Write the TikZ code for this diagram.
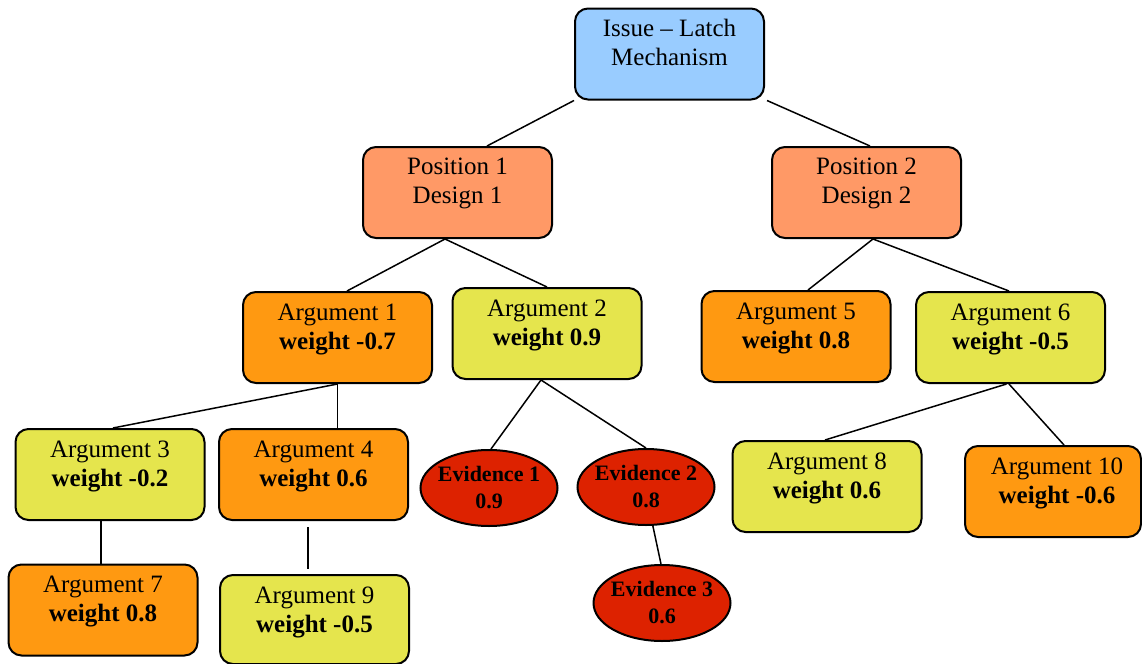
\documentclass[tikz,border=0pt]{standalone}
\usepackage{fontspec}
\setmainfont{Liberation Serif}
\usetikzlibrary{shapes.geometric,calc}
\definecolor{issuec}{HTML}{99CCFF}
\definecolor{posc}{HTML}{FF9966}
\definecolor{orgc}{HTML}{FF9911}
\definecolor{yelc}{HTML}{E5E54D}
\definecolor{evc}{HTML}{DD2200}
\begin{document}
\begin{tikzpicture}[x=0.5pt,y=-0.5pt,
  box/.style={draw=black,line width=1pt,rounded corners=6.5pt,minimum width=94.5pt,minimum height=45.5pt,inner sep=0pt},
  txt/.style={anchor=north,align=center,inner sep=0pt,font=\fontsize{12.5}{14.5}\selectfont},
  evid/.style={ellipse,draw=black,line width=1pt,fill=evc,minimum width=68.5pt,minimum height=38pt,inner xsep=-1.6pt,inner ysep=0pt,align=center,font=\fontsize{11}{13.5}\selectfont\bfseries},
  conn/.style={draw=black,line width=0.75pt}]
\useasboundingbox (0,0) rectangle (1142,664);
% boxes
\node[box,fill=issuec] (issue) at (669.5,54) {};
\node[box,fill=posc] (pos1) at (457.5,192.5) {};
\node[box,fill=posc] (pos2) at (866.5,192.5) {};
\node[box,fill=orgc] (arg1) at (337.5,337.5) {};
\node[box,fill=yelc] (arg2) at (547,333.5) {};
\node[box,fill=orgc] (arg5) at (796,336.5) {};
\node[box,fill=yelc] (arg6) at (1010.5,337.5) {};
\node[box,fill=yelc] (arg3) at (110,474.5) {};
\node[box,fill=orgc] (arg4) at (313.5,474.5) {};
\node[box,fill=orgc] (arg7) at (103,610) {};
\node[box,fill=yelc,minimum height=44.5pt] (arg9) at (314.5,619.5) {};
\node[box,fill=yelc] (arg8) at (827,486.5) {};
\node[box,fill=orgc,minimum width=88pt] (arg10) at (1053,491.5) {};
% texts
\node[txt] (t-issue) at ($(issue.north)+(0,11.5)$) {Issue -- Latch\\Mechanism};
\node[txt] (t-pos1) at ($(pos1.north)+(0,11.5)$) {Position 1\\Design 1};
\node[txt] (t-pos2) at ($(pos2.north)+(0,11.5)$) {Position 2\\Design 2};
\node[txt] (t-arg1) at ($(arg1.north)+(0,12.5)$) {Argument 1\\\textbf{weight -0.7}};
\node[txt] (t-arg2) at ($(arg2.north)+(0,12.5)$) {Argument 2\\\textbf{weight 0.9}};
\node[txt] (t-arg5) at ($(arg5.north)+(0,12.5)$) {Argument 5\\\textbf{weight 0.8}};
\node[txt] (t-arg6) at ($(arg6.north)+(0,12.5)$) {Argument 6\\\textbf{weight -0.5}};
\node[txt] (t-arg3) at ($(arg3.north)+(0,12.5)$) {Argument 3\\\textbf{weight -0.2}};
\node[txt] (t-arg4) at ($(arg4.north)+(0,12.5)$) {Argument 4\\\textbf{weight 0.6}};
\node[txt] (t-arg7) at ($(arg7.north)+(0,12.5)$) {Argument 7\\\textbf{weight 0.8}};
\node[txt] (t-arg9) at ($(arg9.north)+(0,12.5)$) {Argument 9\\\textbf{weight -0.5}};
\node[txt] (t-arg8) at ($(arg8.north)+(0,12.5)$) {Argument 8\\\textbf{weight 0.6}};
\node[txt] (t-arg10) at ($(arg10.north)+(4,12.5)$) {Argument 10\\\textbf{weight -0.6}};
% evidence
\node[evid] (ev1) at (489,488) {Evidence 1\\0.9};
\node[evid] (ev2) at (646,487) {Evidence 2\\0.8};
\node[evid] (ev3) at (662,603) {Evidence 3\\0.6};
% connectors
\draw[conn] (issue.south west) -- ($(pos1.north)+(29.5,0)$);
\draw[conn] ($(issue.south east)+(2,0)$) -- ($(pos2.north)+(3.5,0)$);
\draw[conn] ($(pos1.south)+(-12.5,0)$) -- ($(arg1.north)+(9.5,0)$);
\draw[conn] ($(pos1.south)+(-12.5,0)$) -- (arg2.north);
\draw[conn] ($(pos2.south)+(6.5,0)$) -- ($(arg5.north)+(12,0)$);
\draw[conn] ($(pos2.south)+(6.5,0)$) -- ($(arg6.north)+(-1.5,0)$);
\draw[conn] (arg1.south) -- ($(arg3.north)+(3,0)$);
\draw[conn] (arg1.south) -- ($(arg4.north)+(24,0)$);
\draw[conn] ($(arg2.south)+(-6,0)$) -- ($(ev1.north)+(2,0)$);
\draw[conn] ($(arg2.south)+(-6,0)$) -- (ev2.north);
\draw[conn] (ev2.-80) -- ($(ev3.north)+(-1,0)$);
\draw[conn] ($(arg6.south)+(-4,0)$) -- ($(arg8.north)+(-2,0)$);
\draw[conn] ($(arg6.south)+(-1.5,0)$) -- ($(arg10.north)+(11,0)$);
\draw[conn] ($(arg3.south)+(-9,0)$) -- ($(arg7.north)+(-2,0)$);
\coordinate (g4a) at ($(arg4.south)+(-5.5,6)$);
\coordinate (g4b) at ($(arg9.north)+(-6.5,-5)$);
\draw[conn] (g4a) -- (g4b);
\end{tikzpicture}
\end{document}
